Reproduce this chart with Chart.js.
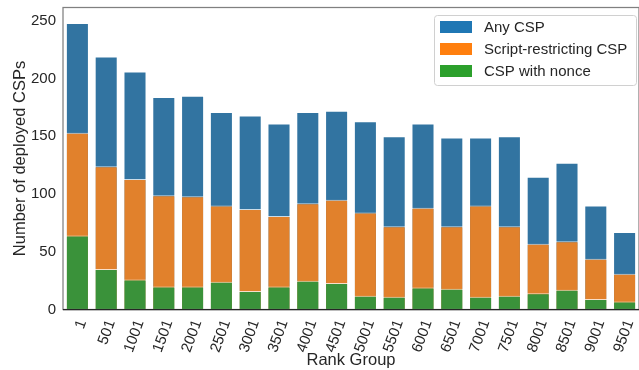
<!DOCTYPE html>
<html>
<head>
<meta charset="utf-8">
<script src="https://cdn.jsdelivr.net/npm/chart.js@4"></script>
<style>
  html, body { margin: 0; padding: 0; background: #fff; }
  #wrap { width: 639px; height: 370px; }
</style>
</head>
<body>
<div id="wrap"><canvas id="chart"></canvas></div>
<script>
const rankGroups = ['1', '501', '1001', '1501', '2001', '2501', '3001', '3501', '4001', '4501',
  '5001', '5501', '6001', '6501', '7001', '7501', '8001', '8501', '9001', '9501'];
const anyCsp = [248, 219, 206, 184, 185, 171, 168, 161, 171, 172,
  163, 150, 161, 149, 149, 150, 115, 127, 90, 67];
const scriptRestricting = [153, 124, 113, 99, 98, 90, 87, 81, 92, 95,
  84, 72, 88, 72, 90, 72, 57, 59, 44, 31];
const withNonce = [64, 35, 26, 20, 20, 24, 16, 20, 25, 23,
  12, 11, 19, 18, 11, 12, 14, 17, 9, 7];
const yTicks = [0, 50, 100, 150, 200, 250];

const FONT = "'Liberation Sans', Arial, sans-serif";
const TEXT = '#262626';

// bars use the muted colours, legend swatches the plain ones
const barColors = ['#3274a1', '#e1812c', '#3a923a'];
const legendColors = ['#1f77b4', '#ff7f0e', '#2ca02c'];

// axes frame (the right spine falls just outside the canvas)
const framePlugin = {
  id: 'frame',
  afterDraw(chart) {
    const a = chart.chartArea, ctx = chart.ctx;
    ctx.save();
    ctx.strokeStyle = '#808080';
    ctx.lineWidth = 1.25;
    ctx.strokeRect(a.left, a.top, a.right - a.left, a.bottom - a.top);
    ctx.strokeStyle = '#262626';
    ctx.beginPath();
    ctx.moveTo(a.left, a.bottom);
    ctx.lineTo(a.right, a.bottom);
    ctx.stroke();
    ctx.restore();
  }
};

// matplotlib-like legend box in the upper right
const legendPlugin = {
  id: 'mplLegend',
  afterDraw(chart) {
    const ctx = chart.ctx;
    const x = 434, y = 15, w = 202, h = 70;
    ctx.save();
    ctx.beginPath();
    ctx.roundRect(x + 0.5, y + 0.5, w, h, 3);
    ctx.fillStyle = 'rgba(255,255,255,0.85)';
    ctx.fill();
    ctx.strokeStyle = '#d0d0d0';
    ctx.lineWidth = 1;
    ctx.stroke();
    ctx.font = '15px ' + FONT;
    ctx.textBaseline = 'middle';
    chart.data.datasets.forEach((ds, i) => {
      const cy = 27 + i * 22;
      ctx.fillStyle = legendColors[i];
      ctx.fillRect(440, cy - 6, 32, 12);
      ctx.fillStyle = TEXT;
      ctx.fillText(ds.label, 484, cy + 0.5);
    });
    ctx.restore();
  }
};

function barSet(label, data, color, order) {
  return {
    label: label,
    data: data,
    backgroundColor: color,
    borderColor: 'rgba(255,255,255,0.75)',
    borderWidth: 1,
    grouped: false,
    barPercentage: 0.8,
    categoryPercentage: 1.0,
    order: order
  };
}

new Chart(document.getElementById('chart'), {
  type: 'bar',
  data: {
    labels: rankGroups,
    datasets: [
      barSet('Any CSP', anyCsp, barColors[0], 2),
      barSet('Script-restricting CSP', scriptRestricting, barColors[1], 1),
      barSet('CSP with nonce', withNonce, barColors[2], 0)
    ]
  },
  options: {
    responsive: true,
    maintainAspectRatio: false,
    animation: false,
    layout: { padding: { top: 7.5, right: -4, left: 0, bottom: 0 } },
    plugins: {
      tooltip: { enabled: false },
      legend: { display: false }
    },
    scales: {
      x: {
        grid: { display: false, drawTicks: false, tickLength: 0 },
        border: { display: false },
        ticks: {
          font: { family: FONT, size: 15 },
          color: TEXT,
          minRotation: 70,
          maxRotation: 70,
          labelOffset: 5,
          padding: 8
        },
        title: {
          display: true,
          text: 'Rank Group',
          font: { family: FONT, size: 16.5 },
          color: TEXT,
          padding: { top: 0, bottom: 0 }
        },
        afterFit(scale) {
          scale.height = 60.5;
          scale.paddingLeft = 0;
          scale.paddingRight = 0;
        }
      },
      y: {
        min: 0,
        max: 261.5,
        grid: { display: false, drawTicks: false, tickLength: 0 },
        border: { display: false },
        afterBuildTicks(scale) { scale.ticks = yTicks.map(v => ({ value: v })); },
        ticks: {
          font: { family: FONT, size: 15 },
          color: TEXT,
          padding: 7
        },
        title: {
          display: true,
          text: 'Number of deployed CSPs',
          font: { family: FONT, size: 16.5 },
          color: TEXT,
          padding: { top: 11, bottom: 0 }
        },
        afterFit(scale) {
          scale.width = 63;
          scale.paddingTop = 0;
          scale.paddingBottom = 0;
        }
      }
    }
  },
  plugins: [framePlugin, legendPlugin]
});
</script>
</body>
</html>
